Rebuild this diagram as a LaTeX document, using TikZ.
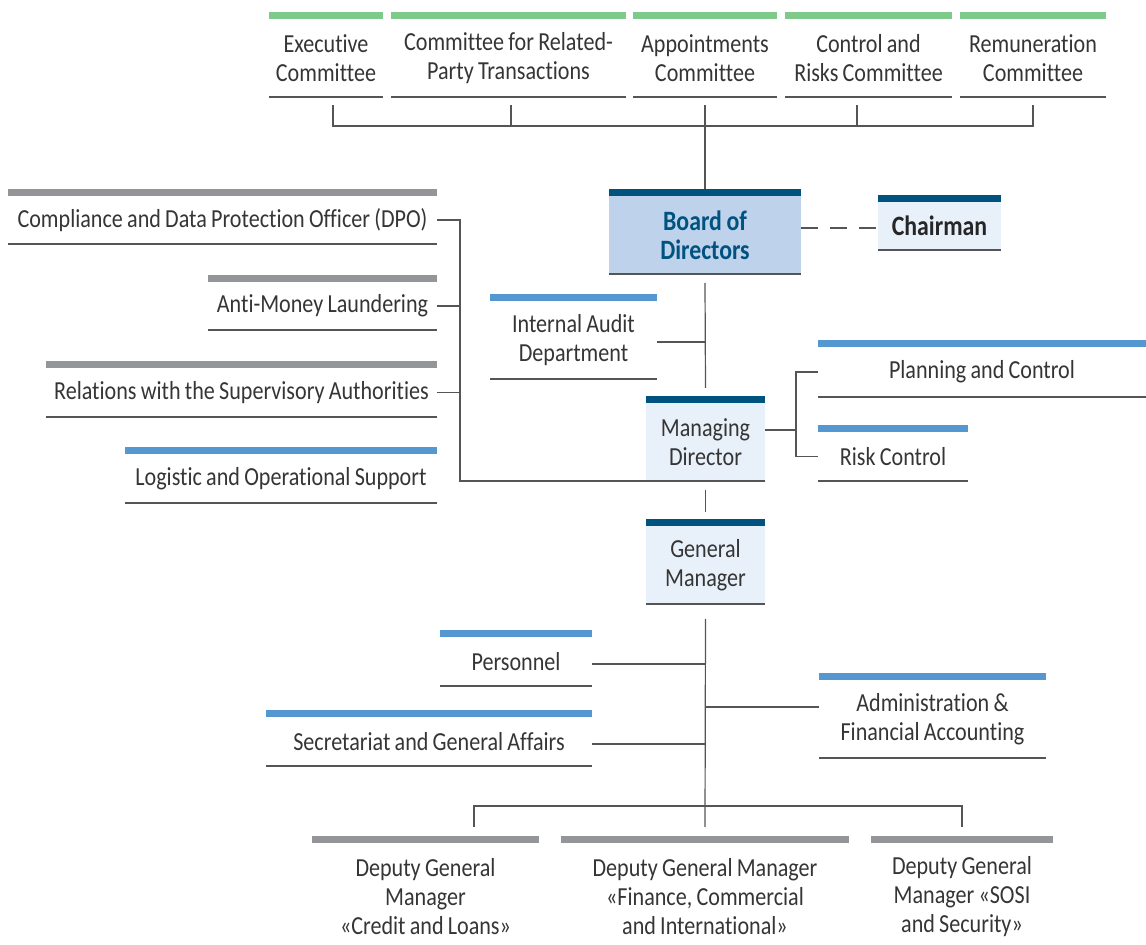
\documentclass[tikz,border=0pt]{standalone}
\usepackage{fontspec}
\setmainfont{Carlito}[FakeStretch=0.85, WordSpace=0.85, Ligatures=NoCommon]
\definecolor{grn}{HTML}{7FC98A}
\definecolor{dkb}{HTML}{00527F}
\definecolor{mdb}{HTML}{5597D0}
\definecolor{gry}{HTML}{939598}
\definecolor{bfill}{HTML}{BED2EB}
\definecolor{lfill}{HTML}{E8F0F9}
\definecolor{txt}{HTML}{353535}
\definecolor{lnc}{HTML}{555555}
\tikzset{
  box/.style={inner sep=0pt, outer sep=0pt, align=center, text=txt, font=\fontsize{13}{14.5}\selectfont},
  conn/.style={draw=lnc, line width=0.6pt},
  bline/.style={draw=lnc, line width=0.75pt},
}
% [opts] name x1 x2 ytop ybot barcolor fill text
\newcommand\mkbox[9][]{%
  \node[box, minimum width={(#4-#3)*0.5pt}, minimum height={(#6-#5)*0.5pt}, fill=#8, #1]
     (#2) at ({(#3+#4)/2},{(#5+#6)/2}) {#9};
  \fill[#7] (#2.north west) rectangle ([yshift=3.5pt]#2.north east);
  \draw[bline] (#2.south west) -- (#2.south east);
}
\begin{document}
\begin{tikzpicture}[x=0.5pt,y=-0.5pt]
\useasboundingbox (0,0) rectangle (1146,945);
% committees
\mkbox{ex}{269}{383}{19}{97}{grn}{none}{Executive\\Committee}
\mkbox{rp}{391}{626}{19}{97}{grn}{none}{Committee for Related-\\Party Transactions}
\mkbox{ap}{633}{777}{19}{97}{grn}{none}{Appointments\\Committee}
\mkbox{cr}{785}{952}{19}{97}{grn}{none}{Control and\\Risks Committee}
\mkbox{rm}{960}{1106}{19}{97}{grn}{none}{Remuneration\\Committee}
% board & chairman
\mkbox[text=dkb, font=\fontsize{14}{14.5}\selectfont\bfseries]{bod}{609}{801}{196}{274}{dkb}{bfill}{Board of\\Directors}
\mkbox[text=black!85, font=\fontsize{14}{14.5}\selectfont\bfseries]{ch}{878}{1001}{202}{250}{dkb}{lfill}{Chairman}
% staff
\mkbox{ia}{490}{657}{301}{379}{mdb}{none}{Internal Audit\\Department}
\mkbox{md}{646}{765}{403}{481}{dkb}{lfill}{Managing\\Director}
\mkbox{pc}{818}{1146}{347}{397}{mdb}{none}{Planning and Control}
\mkbox{rc}{818}{968}{432}{481}{mdb}{none}{Risk Control}
\mkbox{co}{8}{437}{196}{244}{gry}{none}{Compliance and Data Protection Officer (DPO)}
\mkbox{am}{208}{437}{282}{330}{gry}{none}{Anti-Money Laundering}
\mkbox{rs}{46}{437}{368}{417}{gry}{none}{Relations with the Supervisory Authorities}
\mkbox{lo}{125}{437}{454}{503}{mdb}{none}{Logistic and Operational Support}
\mkbox{gm}{646}{765}{526}{604}{dkb}{lfill}{General\\Manager}
\mkbox{pe}{440}{592}{637}{686}{mdb}{none}{Personnel}
\mkbox{se}{266}{592}{717}{766}{mdb}{none}{Secretariat and General Affairs}
\mkbox{ad}{819}{1046}{680}{758}{mdb}{none}{Administration \&\\Financial Accounting}
% deputies
\node[box, minimum width={227*0.5pt}, minimum height={108*0.5pt}] (d1) at (425.5,897) {Deputy General\\Manager\\«Credit and Loans»};
\node[box, minimum width={288*0.5pt}, minimum height={108*0.5pt}] (d2) at (705,897) {Deputy General Manager\\«Finance, Commercial\\and International»};
\node[box, minimum width={182*0.5pt}, minimum height={108*0.5pt}] (d3) at (962,897) {Deputy General\\Manager «SOSI\\and Security»};
\foreach \d in {d1,d2,d3}{\fill[gry] (\d.north west) rectangle ([yshift=3.5pt]\d.north east);}
% connectors
\draw[conn] ([xshift=3.5pt,yshift=-4pt]ex.south) -- ++(0,21) -| ([yshift=-4pt]rm.south);
\draw[conn] ([xshift=1.25pt,yshift=-4pt]rp.south) -- ++(0,21);
\draw[conn] ([xshift=-5.75pt,yshift=-4pt]cr.south) -- ++(0,21);
\draw[conn] ([yshift=-4pt]ap.south) -- ([yshift=3.5pt]bod.north);
\draw[conn, dash pattern=on 8.5pt off 6pt] ([yshift=-1pt]bod.east |- ch.west) -- ([yshift=-1pt]ch.west);
\draw[conn] ([yshift=-4.5pt]bod.south) -- ([yshift=7.5pt]md.north);
\path ([yshift=-1pt]ia.east) coordinate (iae);
\draw[conn] (iae) -- (iae -| bod.south);
\draw[conn] ([yshift=6pt]md.east) -- ++(31,0);
\draw[conn] (pc.west) -- ++(-22,0) |- (rc.west);
\draw[conn] (co.east) -- ++(23,0) coordinate (lb) |- (md.south west);
\draw[conn] (am.east) -- (am.east -| lb);
\draw[conn] (rs.east) -- (rs.east -| lb);
\draw[conn] ([yshift=-4.5pt]md.south) -- ([yshift=7pt]gm.north);
\draw[conn] ([yshift=-7.5pt]gm.south) -- ([yshift=8pt]d2.north);
\path ([yshift=-1.25pt]pe.east) coordinate (pee);
\path ([yshift=-1.25pt]se.east) coordinate (see);
\path ([yshift=6pt]ad.west) coordinate (adw);
\draw[conn] (pee) -- (pee -| gm.south);
\draw[conn] (see) -- (see -| gm.south);
\draw[conn] (adw) -- (adw -| gm.south);
\draw[conn] ([xshift=24.25pt,yshift=8pt]d1.north) -- ++(0,-21) -| ([yshift=8pt]d3.north);
\end{tikzpicture}
\end{document}
